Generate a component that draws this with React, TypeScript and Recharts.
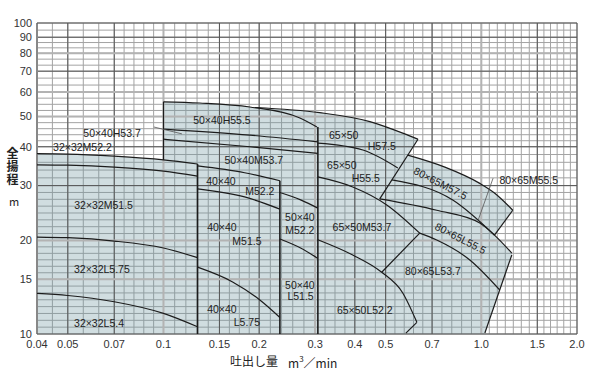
import React from "react";
import {
    ComposedChart,
    XAxis,
    YAxis,
    CartesianGrid,
    Area,
    Line,
    ReferenceLine,
    ReferenceDot
} from "recharts";

type Pt = [number, number];
type Band = [number, number, number];

// axis labels and the grid subdivision between them
const X_LABELS = [0.04, 0.05, 0.07, 0.1, 0.15, 0.2, 0.3, 0.4, 0.5, 0.7, 1.0, 1.5, 2.0];
const Y_LABELS = [10, 15, 20, 30, 40, 50, 60, 70, 80, 90, 100];
const X_SUBDIV = [2, 3, 5, 5, 4, 5, 4, 3, 5, 5, 7, 6];
const Y_SUBDIV = [8, 6, 8, 5, 5, 4, 3, 3, 3, 2];
const X_DARK = [0.05, 0.07, 0.15, 0.2, 0.4, 0.5, 0.7, 1.5];
const X_BOLD = [0.1, 0.3, 1.0];
const Y_DARK = [30, 40, 70, 90];
const Y_BOLD = [15, 20, 50, 60, 80];

// head curves, [Q m3/min, H m]
const c32Top: Pt[] = [[0.04, 38], [0.05, 37.9], [0.07, 37.3], [0.1, 36.3], [0.128, 35.2]];
const c32M: Pt[] = [[0.04, 35], [0.05, 34.9], [0.07, 34.4], [0.1, 33.4], [0.128, 32.2]];
const c32L575: Pt[] = [[0.04, 20.5], [0.05, 20.4], [0.07, 19.9], [0.1, 18.9], [0.128, 17.6]];
const c32L54: Pt[] = [[0.04, 13.5], [0.05, 13.3], [0.07, 12.7], [0.1, 11.65], [0.128, 10.55]];
const edge32: Pt[] = [[0.128, 35.2], [0.128, 10]];

const left50: Pt[] = [[0.1, 55.8], [0.1, 36.3]];
const c50Top: Pt[] = [[0.1, 55.8], [0.13, 55.3], [0.187, 53.7], [0.2686, 49.5], [0.304, 46.3]];
const c50H537: Pt[] = [[0.1, 45.6], [0.187, 43.6], [0.306, 41.5]];
const c50M537: Pt[] = [[0.1, 42.3], [0.187, 40.0], [0.306, 38.1]];
const c50M522: Pt[] = [[0.2324, 28.5], [0.27, 27.0], [0.306, 25.4]];
const c50L515: Pt[] = [[0.2324, 20.2], [0.27, 18.9], [0.306, 17.5]];
const edge50: Pt[] = [[0.306, 46.3], [0.306, 10]];

const c40Top: Pt[] = [[0.128, 34.7], [0.18, 33.0], [0.2324, 31.1]];
const c40M515: Pt[] = [[0.128, 29.3], [0.18, 27.6], [0.2324, 25.2]];
const c40L575: Pt[] = [[0.128, 16.4], [0.165, 14.7], [0.201, 12.86], [0.2324, 11.3]];
const edge40: Pt[] = [[0.2324, 31.1], [0.2324, 10]];

const c65Top: Pt[] = [[0.194, 53.5], [0.31, 51.5], [0.446, 48.2], [0.587, 43.6], [0.632, 42.3]];
const edge65: Pt[] = [[0.632, 42.3], [0.479, 27.2]];
const c65H555: Pt[] = [[0.306, 41.1], [0.424, 39.05], [0.546, 34.2]];
const c65M537: Pt[] = [[0.306, 32.0], [0.394, 29.7], [0.504, 26.0], [0.64, 21.1]];
const c65L522: Pt[] = [[0.306, 20.1], [0.394, 17.95], [0.486, 15.8], [0.566, 13.55], [0.627, 10.9]];
const end65: Pt[] = [[0.627, 10.9], [0.579, 10.07]];

const c80Top: Pt[] = [[0.587, 37.6], [0.768, 34.4], [0.989, 30.5], [1.1, 28.4], [1.256, 25.0]];
const edge80a: Pt[] = [[1.256, 25.0], [1.1, 20.8]];
const c80M555: Pt[] = [[0.523, 31.3], [0.813, 26.97], [1.1, 20.8]];
const c80L555: Pt[] = [[0.479, 27.2], [0.724, 25.0], [0.989, 22.75], [1.1, 20.8], [1.247, 18.2]];
const c80L537: Pt[] = [[0.64, 21.1], [0.724, 20.05], [0.92, 17.3], [1.143, 13.85]];
const side80: Pt[] = [[0.486, 15.8], [0.64, 21.1]];
const edge80b: Pt[] = [[1.247, 17.95], [1.026, 10.07]];

const leaders: Pt[][] = [
    [[0.0933, 46.3], [0.1143, 44.0]],
    [[1.089, 31.7], [0.977, 23.2]]
];

// shaded area, [Q, low H, high H]
const fillA: Band[] = [[0.04, 10, 38], [0.05, 10, 37.9], [0.07, 10, 37.3], [0.1, 10, 36.3]];
const fillB: Band[] = [[0.1, 10, 55.8], [0.13, 10, 55.3], [0.187, 10, 53.7], [0.194, 10, 53.5], [0.31, 10, 51.5], [0.446, 10, 48.2], [0.587, 10, 43.6]];
const fillC: Band[] = [[0.587, 37.6, 43.6], [0.632, 42.3, 42.3]];
const fillD: Band[] = [[0.587, 10, 37.6], [0.768, 10, 34.4], [0.989, 10, 30.5], [1.026, 10, 29.9]];
const fillE: Band[] = [[1.026, 10, 29.9], [1.1, 12.48, 28.4]];
const fillF: Band[] = [[1.1, 20.8, 28.4], [1.186, 23.2, 26.6], [1.256, 25, 25]];
const fillG: Band[] = [[1.1, 12.48, 20.8], [1.186, 15.46, 19.1], [1.247, 17.95, 18.2]];

const LABELS: { t: string; x: number; y: number; rot?: number }[] = [
    { t: "50×40H53.7", x: 0.0689, y: 44.3 },
    { t: "32×32M52.2", x: 0.0556, y: 39.9 },
    { t: "32×32M51.5", x: 0.0648, y: 26.0 },
    { t: "32×32L5.75", x: 0.064, y: 16.18 },
    { t: "32×32L5.4", x: 0.0627, y: 10.82 },
    { t: "50×40H55.5", x: 0.1527, y: 48.8 },
    { t: "50×40M53.7", x: 0.1925, y: 36.3 },
    { t: "40×40", x: 0.1516, y: 30.9 },
    { t: "M52.2", x: 0.201, y: 28.7 },
    { t: "40×40", x: 0.1527, y: 21.97 },
    { t: "M51.5", x: 0.183, y: 19.8 },
    { t: "40×40", x: 0.1527, y: 12.0 },
    { t: "L5.75", x: 0.183, y: 10.93 },
    { t: "50×40", x: 0.2686, y: 23.66 },
    { t: "M52.2", x: 0.2686, y: 21.6 },
    { t: "50×40", x: 0.2686, y: 14.37 },
    { t: "L51.5", x: 0.27, y: 13.18 },
    { t: "65×50", x: 0.369, y: 43.6 },
    { t: "H57.5", x: 0.486, y: 40.0 },
    { t: "65×50", x: 0.364, y: 34.95 },
    { t: "H55.5", x: 0.433, y: 31.7 },
    { t: "65×50M53.7", x: 0.421, y: 22.1 },
    { t: "65×50L52.2", x: 0.43, y: 11.94 },
    { t: "80×65L53.7", x: 0.704, y: 15.86 },
    { t: "80×65M55.5", x: 1.41, y: 31.3 },
    { t: "80×65M57.5", x: 0.744, y: 30.5, rot: 27 },
    { t: "80×65L55.5", x: 0.86, y: 20.3, rot: 27 }
];

const INK = "#1c1c1c";
const FONT = "'Liberation Sans', Arial, sans-serif";
const JP = "'Noto Sans CJK JP', sans-serif";

function subdivide(majors: number[], counts: number[]) {
    const out: number[] = [];
    majors.forEach((a, i) => {
        out.push(a);
        const b = majors[i + 1];
        if (b === undefined) return;
        for (let k = 1; k < counts[i]; k++) out.push(a * Math.pow(b / a, k / counts[i]));
    });
    return out;
}

const X_GRID = subdivide(X_LABELS, X_SUBDIV);
const Y_GRID = subdivide(Y_LABELS, Y_SUBDIV);

const fmtX = (v: number) => (v >= 1 ? v.toFixed(1) : String(v));

function XTick(props: any) {
    const v = props.payload.value;
    if (!X_LABELS.includes(v)) return <g />;
    return (
        <text x={props.x} y={props.y} dy="0.71em" textAnchor="middle" fontSize={11} fill="#333" fontFamily={FONT}>
            {fmtX(v)}
        </text>
    );
}

function YTick(props: any) {
    const v = props.payload.value;
    if (!Y_LABELS.includes(v)) return <g />;
    return (
        <text x={props.x} y={props.y} dy="0.35em" textAnchor="end" fontSize={11} fill="#333" fontFamily={FONT}>
            {v}
        </text>
    );
}

const curve = (pts: Pt[], key: string, smooth = true, color = INK, w = 1.2) => (
    <Line
        key={key}
        data={pts.map(([x, y]) => ({ x, y }))}
        dataKey="y"
        type={smooth ? "monotone" : "linear"}
        stroke={color}
        strokeWidth={w}
        dot={false}
        activeDot={false}
        isAnimationActive={false}
    />
);

const band = (pts: Band[], key: string, smooth = true) => (
    <Area
        key={key}
        data={pts.map(([x, lo, hi]) => ({ x, r: [lo, hi] }))}
        dataKey="r"
        type={smooth ? "monotone" : "linear"}
        stroke="none"
        fill="#6f98a2"
        fillOpacity={0.33}
        activeDot={false}
        isAnimationActive={false}
    />
);

const abs = (left: number, top: number, extra: React.CSSProperties = {}): React.CSSProperties => ({
    position: "absolute",
    left,
    top,
    fontFamily: JP,
    color: "#222",
    whiteSpace: "nowrap",
    lineHeight: 1,
    ...extra
});

export default function App() {
    return (
        <div style={{ position: "absolute", left: 0, top: 0, width: 600, height: 370, background: "#fff" }}>
            <ComposedChart width={600} height={370} margin={{ top: 23, right: 23, left: 0, bottom: 0 }}>
                <CartesianGrid stroke="#a3a3a3" strokeWidth={1} />
                <XAxis
                    dataKey="x"
                    type="number"
                    scale="log"
                    domain={[0.04, 2]}
                    allowDataOverflow
                    ticks={X_GRID}
                    interval={0}
                    tick={<XTick />}
                    tickLine={false}
                    axisLine={false}
                    tickSize={4}
                    tickMargin={2}
                    height={36}
                />
                <YAxis
                    type="number"
                    scale="log"
                    domain={[10, 100]}
                    allowDataOverflow
                    ticks={Y_GRID}
                    interval={0}
                    tick={<YTick />}
                    tickLine={false}
                    axisLine={false}
                    tickSize={3}
                    tickMargin={2}
                    width={37}
                />

                {band(fillA, "fa")}
                {band(fillB, "fb")}
                {band(fillC, "fc", false)}
                {band(fillD, "fd")}
                {band(fillE, "fe", false)}
                {band(fillF, "ff", false)}
                {band(fillG, "fg", false)}

                {X_DARK.map(v => <ReferenceLine key={"xd" + v} x={v} stroke="#555" strokeWidth={1} />)}
                {X_BOLD.map(v => <ReferenceLine key={"xb" + v} x={v} stroke="#b3b3b3" strokeWidth={2} />)}
                {Y_DARK.map(v => <ReferenceLine key={"yd" + v} y={v} stroke="#555" strokeWidth={1} />)}
                {Y_BOLD.map(v => <ReferenceLine key={"yb" + v} y={v} stroke="#b3b3b3" strokeWidth={2} />)}
                <ReferenceLine x={0.04} stroke="#888" strokeWidth={2} />
                <ReferenceLine x={2} stroke="#555" strokeWidth={1} />
                <ReferenceLine y={10} stroke="#555" strokeWidth={1} />
                <ReferenceLine y={100} stroke="#555" strokeWidth={1} />

                {curve(c32Top, "a1")}
                {curve(c32M, "a2")}
                {curve(c32L575, "a3")}
                {curve(c32L54, "a4")}
                {curve(edge32, "a5", false, INK, 1.6)}
                {curve(left50, "b0", false)}
                {curve(c50Top, "b1")}
                {curve(c50H537, "b2")}
                {curve(c50M537, "b3")}
                {curve(c50M522, "b4")}
                {curve(c50L515, "b5")}
                {curve(edge50, "b6", false, INK, 1.6)}
                {curve(c40Top, "c1")}
                {curve(c40M515, "c2")}
                {curve(c40L575, "c3")}
                {curve(edge40, "c4", false, INK, 1.6)}
                {curve(c65Top, "d1")}
                {curve(edge65, "d2", false)}
                {curve(c65H555, "d3")}
                {curve(c65M537, "d4")}
                {curve(c65L522, "d5")}
                {curve(end65, "d6", false)}
                {curve(c80Top, "e1")}
                {curve(edge80a, "e2", false)}
                {curve(c80M555, "e3")}
                {curve(c80L555, "e4")}
                {curve(c80L537, "e5")}
                {curve(side80, "e6", false)}
                {curve(edge80b, "e7", false)}
                {leaders.map((l, i) => curve(l, "l" + i, false, "#555", 0.8))}

                {LABELS.map((l, i) => (
                    <ReferenceDot
                        key={"t" + i}
                        x={l.x}
                        y={l.y}
                        r={0}
                        shape={(p: any) => (
                            <text
                                x={p.cx}
                                y={p.cy}
                                dy="0.35em"
                                textAnchor="middle"
                                fontSize={10.5}
                                fill="#222"
                                fontFamily={FONT}
                                transform={l.rot ? `rotate(${l.rot} ${p.cx} ${p.cy})` : undefined}
                            >
                                {l.t}
                            </text>
                        )}
                    />
                ))}
            </ComposedChart>

            <div style={abs(6, 147, { fontSize: 12, fontWeight: "bold", writingMode: "vertical-rl", letterSpacing: 1 })}>全揚程</div>
            <div style={abs(9, 196, { fontSize: 11 })}>m</div>
            <div style={abs(230, 355, { fontSize: 12 })}>吐出し量</div>
            <div style={abs(288, 355, { fontSize: 12 })}>
                m<sup style={{ fontSize: 8, verticalAlign: "6px" }}>3</sup>／min
            </div>
        </div>
    );
}
